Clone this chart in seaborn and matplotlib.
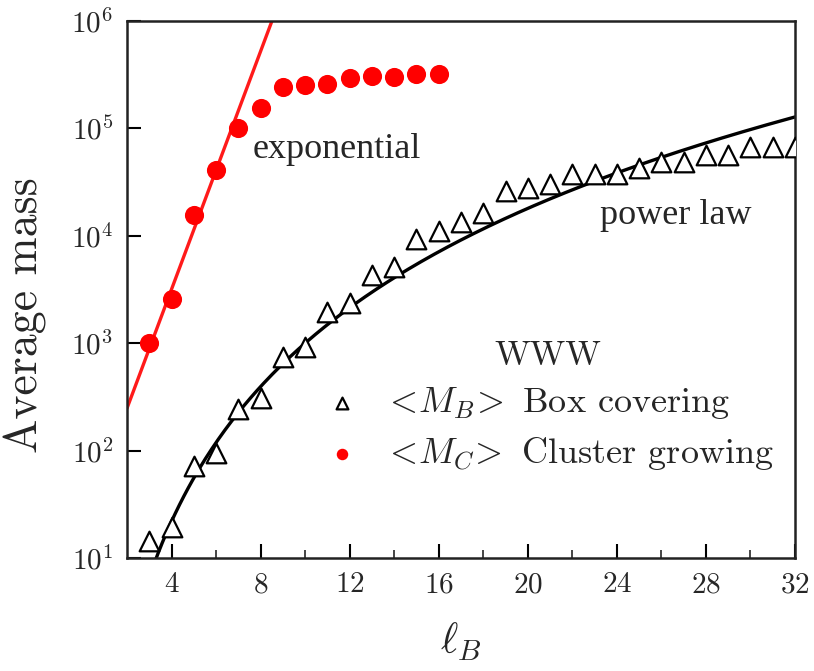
import numpy as np
import pandas as pd
import matplotlib
matplotlib.use("Agg")
import matplotlib.pyplot as plt
import seaborn as sns
from matplotlib.ticker import FixedLocator, FuncFormatter, NullLocator

# ---- data ----
box_l = [3, 4, 5, 6, 7, 8, 9, 10, 11, 12, 13, 14, 15, 16, 17, 18, 19, 20,
         21, 22, 23, 24, 25, 26, 27, 28, 29, 30, 31, 32]
box_m = [14.3, 19.6, 72, 94, 245, 309, 740, 920, 1950, 2380, 4350, 5130,
         9330, 11000, 13500, 16400, 26300, 27600, 30200, 37500, 37500, 37500,
         42400, 48800, 48800, 56200, 56200, 67100, 67100, 67100]

clu_l = [3, 4, 5, 6, 7, 8, 9, 10, 11, 12, 13, 14, 15, 16]
clu_m = [1010, 2600, 15600, 40800, 100000, 155000, 245000, 255000, 260000,
         295000, 309000, 299000, 321000, 321000]

# fit lines (log10 M = a + b*l for exponential; log10 M = c + d*log10 l for power law)
exp_a, exp_b = 2.394 - 2 * 0.554, 0.554
pow_c, pow_d = -1.17, 4.17
exp_range = [2, 8.6]
pow_range = [3.0, 32]

x_ticks = [4, 8, 12, 16, 20, 24, 28, 32]
y_ticks = [1e1, 1e2, 1e3, 1e4, 1e5, 1e6]

sns.set_theme(style="ticks")
plt.rcParams["mathtext.fontset"] = "cm"
plt.rcParams["font.family"] = ["cmr10", "DejaVu Serif"]
plt.rcParams["axes.formatter.use_mathtext"] = True

fig = plt.figure(figsize=(8.14, 6.71), dpi=100)
ax = fig.add_axes([127 / 814, 1 - 558 / 671, (795 - 127) / 814, (558 - 21) / 671])

le = np.linspace(exp_range[0], exp_range[1], 50)
lp = np.linspace(pow_range[0], pow_range[1], 300)
df_exp = pd.DataFrame({"l": le, "m": 10 ** (exp_a + exp_b * le)})
df_pow = pd.DataFrame({"l": lp, "m": 10 ** (pow_c + pow_d * np.log10(lp))})
sns.lineplot(data=df_exp, x="l", y="m", ax=ax, color="#ff1a1a", lw=2.4, legend=False)
sns.lineplot(data=df_pow, x="l", y="m", ax=ax, color="black", lw=2.4, legend=False)

df_box = pd.DataFrame({"l": box_l, "m": box_m})
df_clu = pd.DataFrame({"l": clu_l, "m": clu_m})
sns.scatterplot(data=df_box, x="l", y="m", ax=ax, marker="^", s=200,
                facecolor="white", edgecolor="black", linewidth=1.6,
                label=r"$<\!M_{B}\!>$ Box covering", zorder=5)
sns.scatterplot(data=df_clu, x="l", y="m", ax=ax, marker="o", s=190,
                color="red", edgecolor="red", linewidth=0,
                label=r"$<\!M_{C}\!>$ Cluster growing", zorder=5)

ax.set_yscale("log")
ax.set_xlim(2, 32)
ax.set_ylim(10, 1e6)
ax.xaxis.set_major_locator(FixedLocator(x_ticks))
ax.xaxis.set_minor_locator(FixedLocator([6, 10, 14, 18, 22, 26, 30]))
ax.yaxis.set_major_locator(FixedLocator(y_ticks))
ax.yaxis.set_minor_locator(NullLocator())
ax.yaxis.set_major_formatter(FuncFormatter(lambda v, p: r"$10^{%d}$" % round(np.log10(v))))
ax.xaxis.set_major_formatter(FuncFormatter(lambda v, p: r"$%d$" % v))
ax.tick_params(axis="both", which="major", direction="in", length=10, width=1.5,
               labelsize=21, pad=10, color="black")
ax.tick_params(axis="x", which="minor", direction="in", length=6, width=1.2)
for s in ax.spines.values():
    s.set_linewidth(1.8)
    s.set_color("#222222")

ax.set_xlabel(r"$\ell_{B}$", fontsize=30, labelpad=16)
ax.set_ylabel("Average mass", fontsize=33)
ax.yaxis.set_label_coords(-0.12, 0.4525)

ax.text(7.66, 63000, "exponential", fontsize=26, family="Liberation Serif",
        ha="left", va="center")
ax.text(23.24, 15500, "power law", fontsize=26, family="Liberation Serif",
        ha="left", va="center")

leg = ax.legend(title="WWW", loc="upper left",
                bbox_to_anchor=(322 / 814, 1 - 340 / 671),
                bbox_transform=fig.transFigure, frameon=False, fontsize=26,
                title_fontsize=25, markerscale=0.6, handletextpad=0.6,
                labelspacing=0.38, handlelength=1.1, borderaxespad=0,
                borderpad=0)
for t in leg.get_texts():
    t.set_fontfamily(["cmr10", "DejaVu Serif"])

fig.savefig("out.png", dpi=100)
